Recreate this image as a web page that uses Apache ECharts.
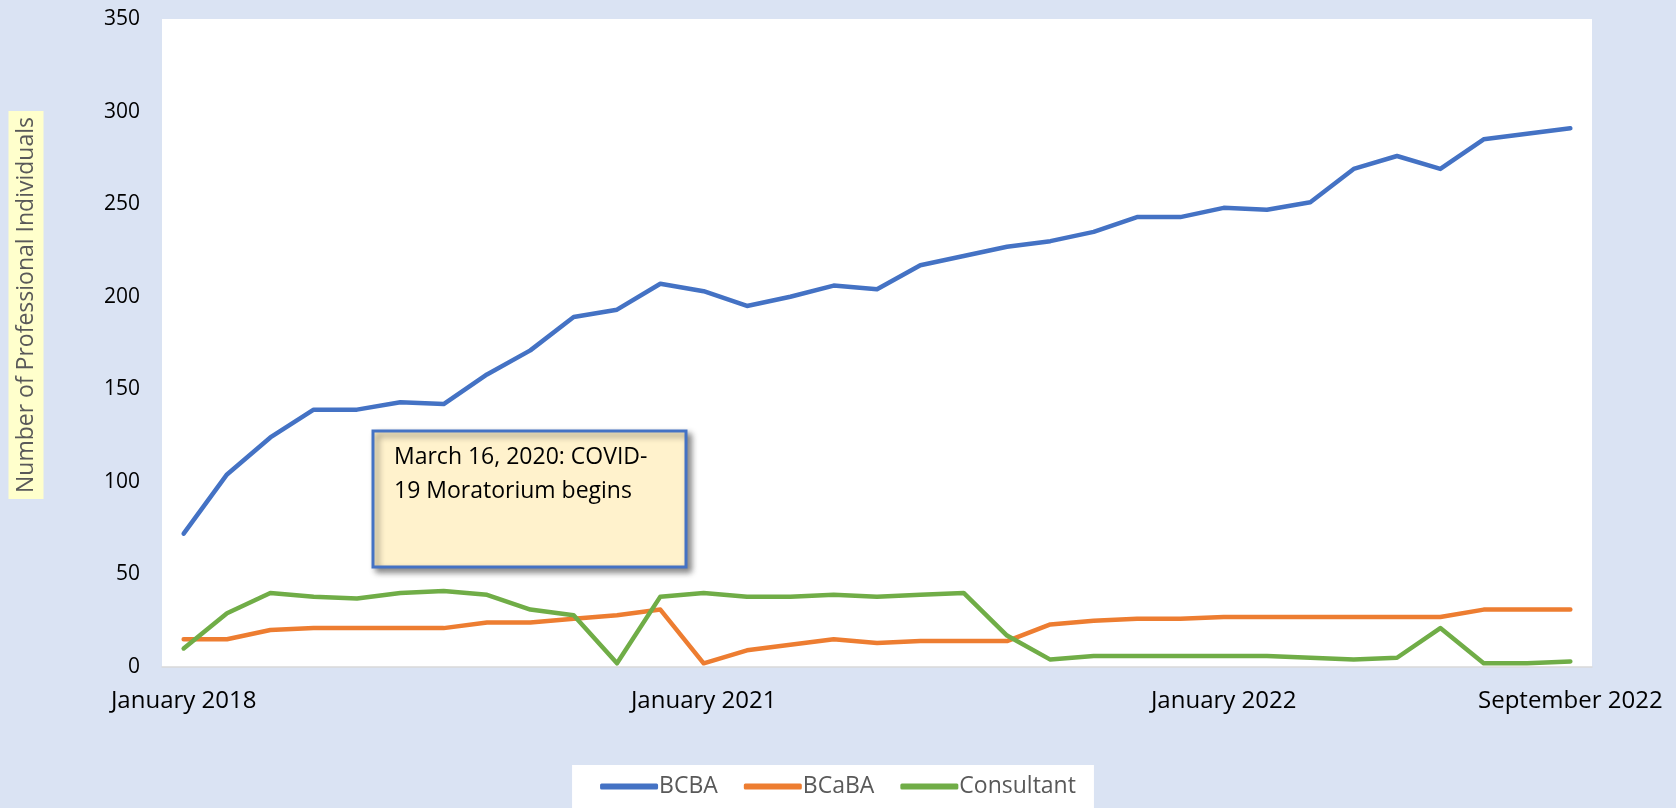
<!DOCTYPE html>
<html>
<head>
<meta charset="utf-8">
<script src="https://cdn.jsdelivr.net/npm/echarts@6/dist/echarts.min.js"></script>
<style>
  html, body { margin: 0; padding: 0; background: #DAE3F3; }
  #main { width: 1676px; height: 808px; }
</style>
</head>
<body>
<div id="main"></div>
<script>
// data
var categories = ['January 2018', '', '', '', '', '', '', '', '', '', '', '',
    'January 2021', '', '', '', '', '', '', '', '', '', '', '',
    'January 2022', '', '', '', '', '', '', '', 'September 2022'];
var bcba = [72, 104, 124, 139, 139, 143, 142, 158, 171, 189, 193, 207, 203, 195, 200, 206, 204,
    217, 222, 227, 230, 235, 243, 243, 248, 247, 251, 269, 276, 269, 285, 288, 291];
var bcaba = [15, 15, 20, 21, 21, 21, 21, 24, 24, 26, 28, 31, 2, 9, 12, 15, 13,
    14, 14, 14, 23, 25, 26, 26, 27, 27, 27, 27, 27, 27, 31, 31, 31];
var consultant = [10, 29, 40, 38, 37, 40, 41, 39, 31, 28, 2, 38, 40, 38, 38, 39, 38,
    39, 40, 17, 4, 6, 6, 6, 6, 6, 5, 4, 5, 21, 2, 2, 3];
var yTicks = [0, 50, 100, 150, 200, 250, 300, 350];

(function() {
    var myChart = echarts.init(document.getElementById('main'));
    var font = '"Open Sans", sans-serif';

    function line(name, data, color) {
        return {
            name: name,
            type: 'line',
            data: data,
            symbol: 'none',
            lineStyle: { color: color, width: 4.5, cap: 'round', join: 'round' },
            itemStyle: { color: color }
        };
    }

    var option = {
        backgroundColor: '#DAE3F3',
        animation: false,
        grid: {
            left: 162,
            right: 84,
            top: 19,
            bottom: 141,
            show: true,
            backgroundColor: '#fff',
            borderWidth: 0
        },
        xAxis: {
            type: 'category',
            data: categories,
            boundaryGap: true,
            axisTick: { show: false },
            axisLine: { lineStyle: { color: '#D9D9D9', width: 1.5 } },
            axisLabel: {
                interval: 0,
                margin: 22,
                color: '#000',
                fontFamily: font,
                fontSize: 24
            }
        },
        yAxis: {
            type: 'value',
            min: yTicks[0],
            max: yTicks[yTicks.length - 1],
            interval: 50,
            splitLine: { show: false },
            axisLine: { show: false },
            axisTick: { show: false },
            axisLabel: {
                margin: 22,
                color: '#000',
                fontFamily: font,
                fontSize: 21
            }
        },
        legend: {
            bottom: 0,
            left: 'center',
            backgroundColor: '#fff',
            padding: [10, 18, 10, 28],
            itemGap: 26,
            itemWidth: 58,
            itemHeight: 6,
            icon: 'roundRect',
            textStyle: { color: '#595959', fontFamily: font, fontSize: 23, padding: [0, 0, 0, -4] },
            data: ['BCBA', 'BCaBA', 'Consultant']
        },
        graphic: [
            {
                type: 'text',
                x: 26,
                y: 305,
                rotation: Math.PI / 2,
                style: {
                    text: 'Number of Professional Individuals',
                    align: 'center',
                    verticalAlign: 'middle',
                    font: '23px "Open Sans", sans-serif',
                    fill: '#595959',
                    backgroundColor: '#FFFFCC',
                    padding: [6, 6, 6, 6]
                }
            },
            {
                type: 'rect',
                shape: { x: 373, y: 431, width: 313, height: 136 },
                style: {
                    fill: '#FFF2CC',
                    stroke: '#4472C4',
                    lineWidth: 3,
                    shadowBlur: 6,
                    shadowOffsetX: 4,
                    shadowOffsetY: 4,
                    shadowColor: 'rgba(0,0,0,0.45)'
                }
            },
            {
                type: 'text',
                x: 394,
                y: 440,
                style: {
                    text: 'March 16, 2020: COVID-\n19 Moratorium begins',
                    font: '23px "Open Sans", sans-serif',
                    lineHeight: 34,
                    fill: '#000'
                }
            }
        ],
        series: [
            line('BCBA', bcba, '#4472C4'),
            line('BCaBA', bcaba, '#ED7D31'),
            line('Consultant', consultant, '#70AD47')
        ]
    };
    myChart.setOption(option);
    window.addEventListener('resize', function() {
        myChart.resize();
    });
})();
</script>
</body>
</html>
